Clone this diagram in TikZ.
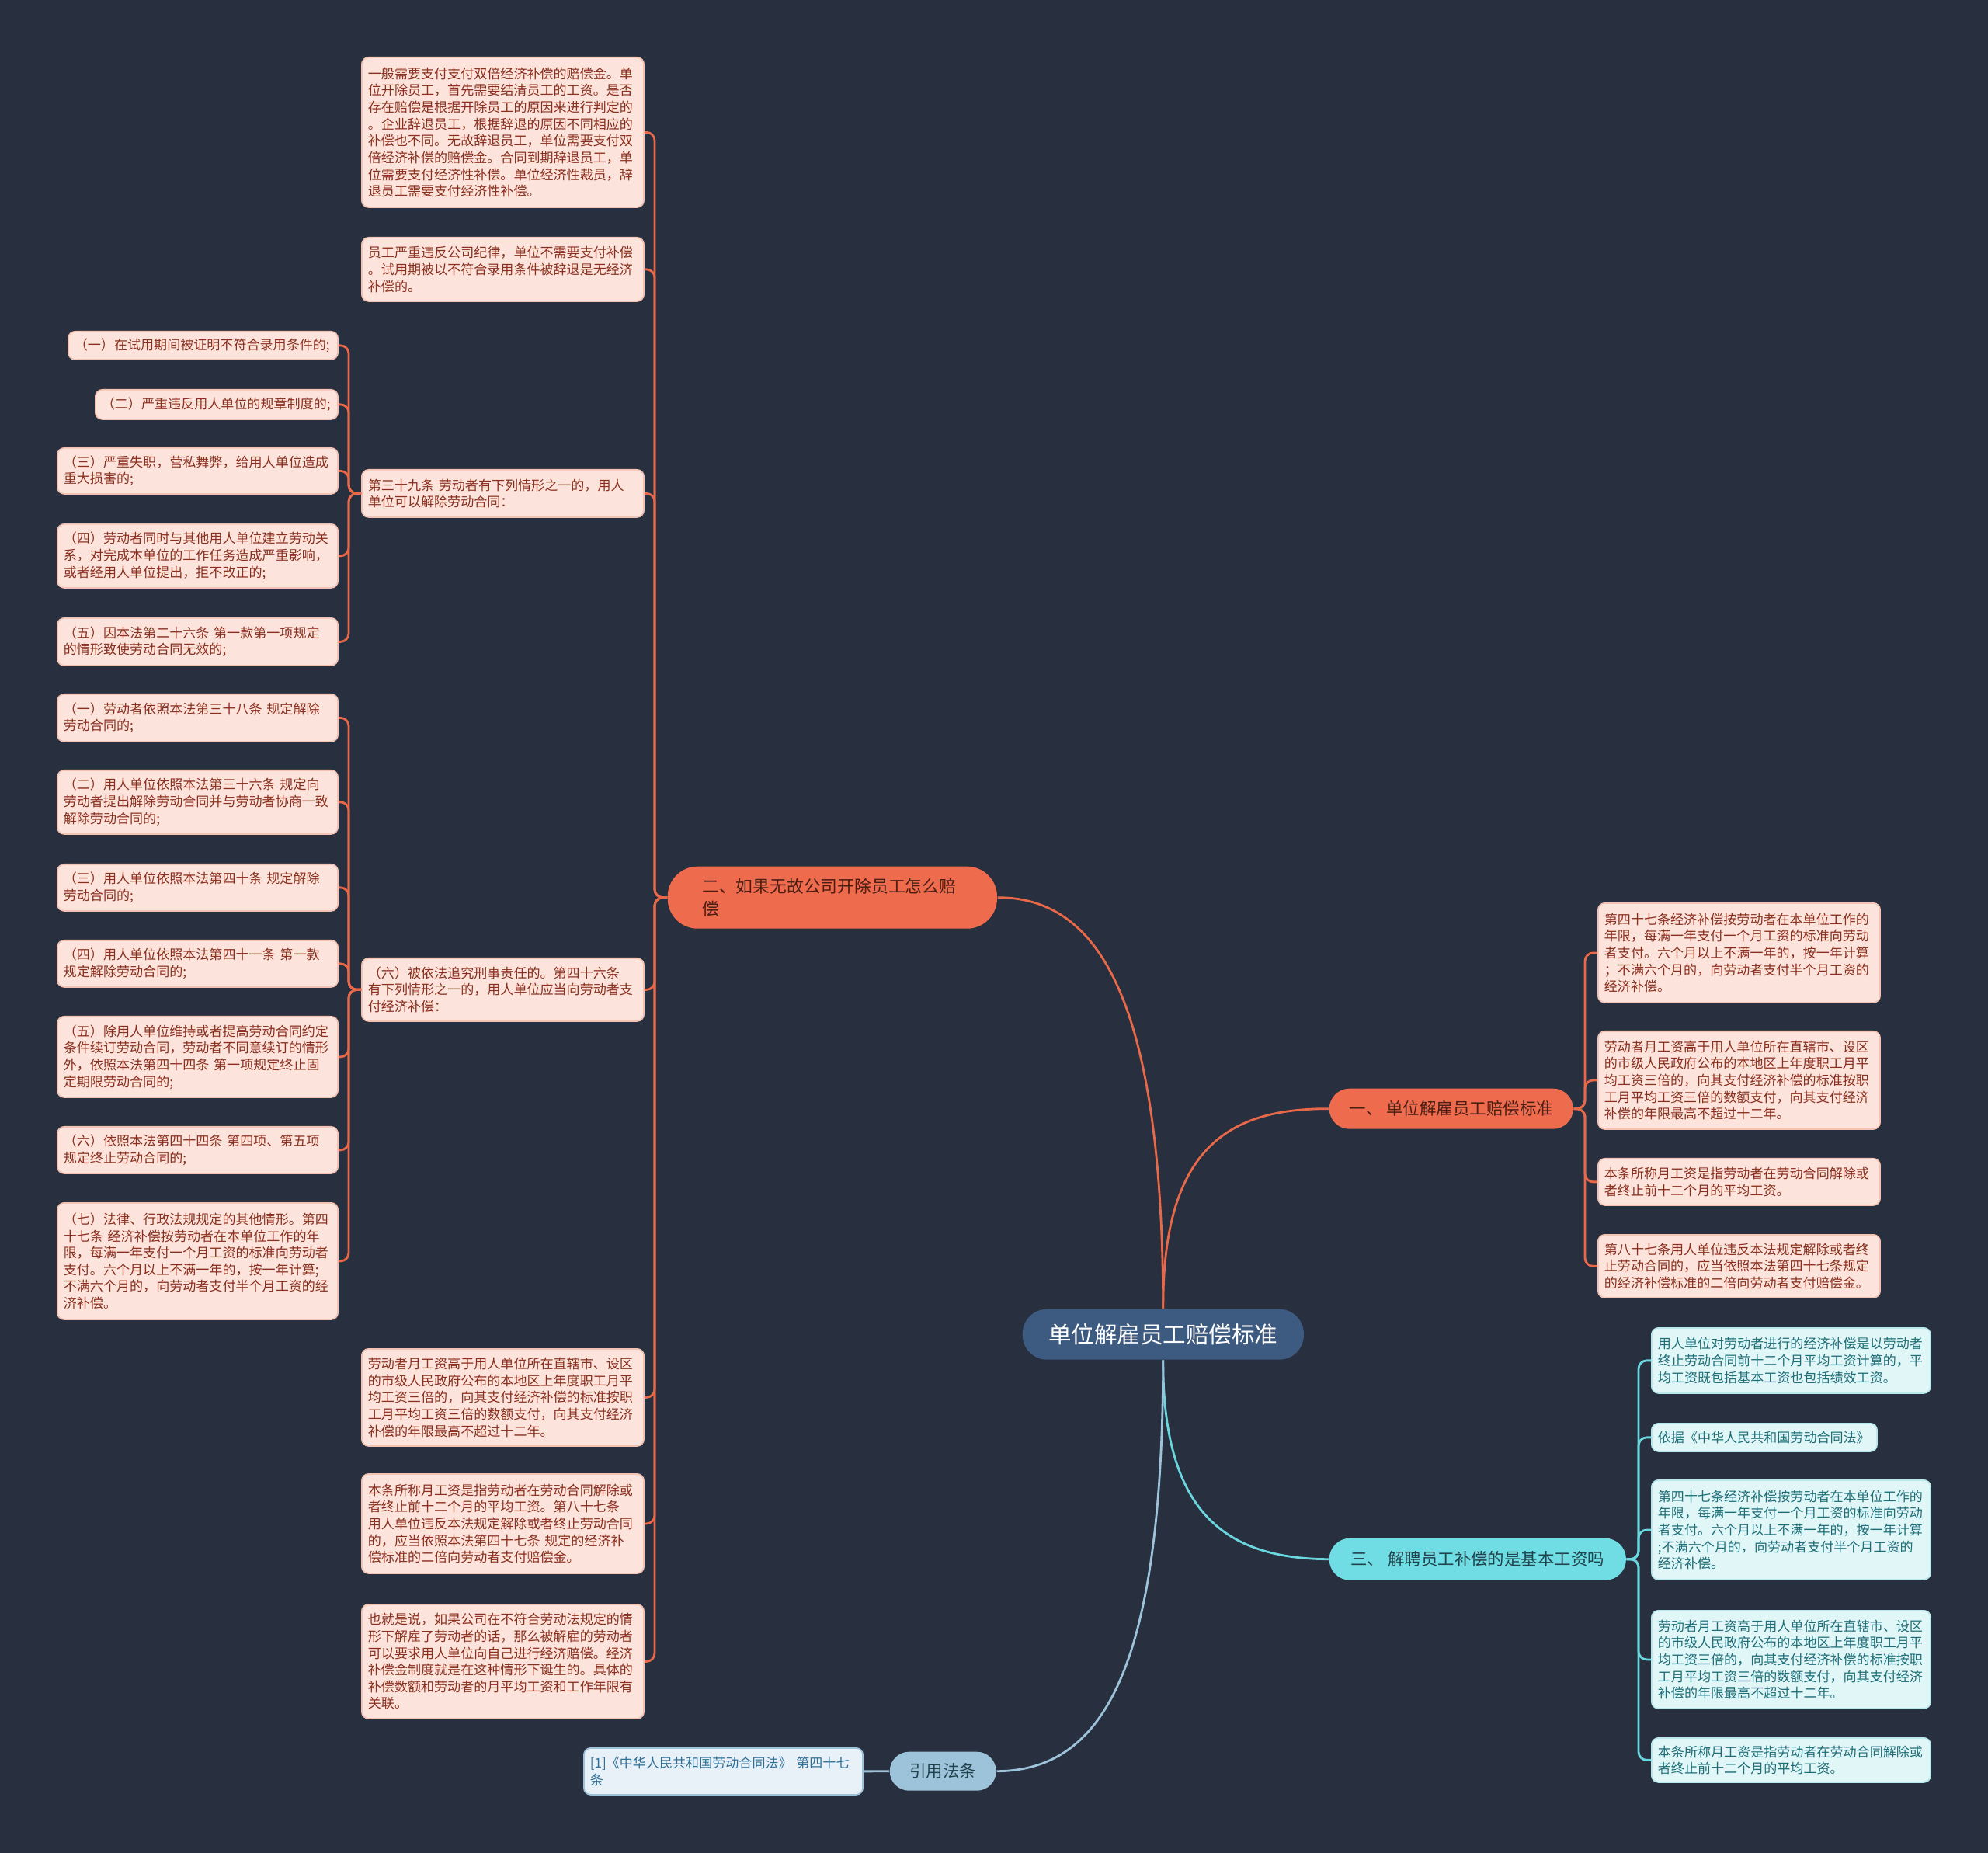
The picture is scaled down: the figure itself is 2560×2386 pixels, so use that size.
\documentclass[tikz,border=0pt]{standalone}
\usepackage{fontspec}
\newfontfamily\cjk{Noto Sans CJK SC}
\definecolor{bg}{HTML}{282F3E}
\definecolor{pfill}{HTML}{FCE4DC}
\definecolor{pedge}{HTML}{F2C3B4}
\definecolor{ptext}{HTML}{8A2F1E}
\definecolor{cfill}{HTML}{E0F6F7}
\definecolor{cedge}{HTML}{B8E8EC}
\definecolor{ctext}{HTML}{1E6E78}
\definecolor{colO}{HTML}{E8694A}
\definecolor{colC}{HTML}{6AD6DE}
\definecolor{colB}{HTML}{9DC3DB}
\definecolor{ofill}{HTML}{EE6B4D}
\definecolor{otext}{HTML}{4A1E14}
\definecolor{cbr}{HTML}{6FDDE3}
\definecolor{cbrtext}{HTML}{22434C}
\definecolor{centf}{HTML}{3D5A80}
\definecolor{reff}{HTML}{E8F1F8}
\definecolor{reftext}{HTML}{2F6F97}
\begin{document}
\begin{tikzpicture}[x=0.01cm,y=-0.01cm,
  box/.style={anchor=north west, rounded corners=2.5pt, align=left, inner xsep=0.08cm, inner ysep=0pt, font=\cjk\fontsize{4.85pt}{6.15pt}\selectfont},
  pbox/.style={box, fill=pfill, draw=pedge, line width=0.5pt, text=ptext},
  cbox/.style={box, fill=cfill, draw=cedge, line width=0.5pt, text=ctext},
  brn/.style={anchor=north west, inner sep=0pt, font=\cjk\fontsize{6.1pt}{8.3pt}\selectfont},
  olink/.style={draw=colO, line width=0.8pt, rounded corners=3pt},
  clink/.style={draw=colC, line width=0.8pt, rounded corners=3pt},
  blink/.style={draw=colB, line width=0.8pt, rounded corners=3pt}]
\path[use as bounding box, fill=bg] (0,0) rectangle (2560,2386);

% central and branches
\node[brn, fill=centf, text=white, rounded corners=9pt, minimum width=3.62cm, minimum height=0.65cm, font=\cjk\fontsize{8.4pt}{10pt}\selectfont] (C) at (1316,1685) {单位解雇员工赔偿标准};
\node[brn, fill=ofill, text=otext, rounded corners=11pt, minimum width=4.24cm, minimum height=0.8cm, text width=3.35cm, align=left, font=\cjk\fontsize{6.2pt}{8.3pt}\selectfont] (B2) at (859,1115) {二、如果无故公司开除员工怎么赔\\偿};
\node[brn, fill=ofill, text=otext, rounded corners=7.4pt, minimum width=3.14cm, minimum height=0.52cm] (B1) at (1711,1401) {一、 单位解雇员工赔偿标准};
\node[brn, fill=cbr, text=cbrtext, rounded corners=7.6pt, minimum width=3.82cm, minimum height=0.54cm] (B3) at (1711,1980) {三、 解聘员工补偿的是基本工资吗};
\node[brn, fill=colB, text=cbrtext, rounded corners=7.1pt, minimum width=1.37cm, minimum height=0.5cm] (B4) at (1145,2255) {引用法条};

% branch 二 children
\node[pbox, text width=3.47cm, minimum height=1.93cm] (L1) at (465,73) {一般需要支付支付双倍经济补偿的赔偿金。单\\位开除员工，首先需要结清员工的工资。是否\\存在赔偿是根据开除员工的原因来进行判定的\\。企业辞退员工，根据辞退的原因不同相应的\\补偿也不同。无故辞退员工，单位需要支付双\\倍经济补偿的赔偿金。合同到期辞退员工，单\\位需要支付经济性补偿。单位经济性裁员，辞\\退员工需要支付经济性补偿。};
\node[pbox, text width=3.47cm, minimum height=0.82cm] (L2) at (465,305) {员工严重违反公司纪律，单位不需要支付补偿\\。试用期被以不符合录用条件被辞退是无经济\\补偿的。};
\node[pbox, text width=3.47cm, minimum height=0.61cm] (L3) at (465,604) {第三十九条 劳动者有下列情形之一的，用人\\单位可以解除劳动合同：};
\node[pbox, text width=3.47cm, minimum height=0.81cm] (L4) at (465,1233) {（六）被依法追究刑事责任的。第四十六条\\有下列情形之一的，用人单位应当向劳动者支\\付经济补偿：};
\node[pbox, text width=3.47cm, minimum height=1.25cm] (L5) at (465,1736) {劳动者月工资高于用人单位所在直辖市、设区\\的市级人民政府公布的本地区上年度职工月平\\均工资三倍的，向其支付经济补偿的标准按职\\工月平均工资三倍的数额支付，向其支付经济\\补偿的年限最高不超过十二年。};
\node[pbox, text width=3.47cm, minimum height=1.28cm] (L6) at (465,1897) {本条所称月工资是指劳动者在劳动合同解除或\\者终止前十二个月的平均工资。第八十七条\\用人单位违反本法规定解除或者终止劳动合同\\的，应当依照本法第四十七条 规定的经济补\\偿标准的二倍向劳动者支付赔偿金。};
\node[pbox, text width=3.47cm, minimum height=1.47cm] (L7) at (465,2065) {也就是说，如果公司在不符合劳动法规定的情\\形下解雇了劳动者的话，那么被解雇的劳动者\\可以要求用人单位向自己进行经济赔偿。经济\\补偿金制度就是在这种情形下诞生的。具体的\\补偿数额和劳动者的月平均工资和工作年限有\\关联。};

% level 3 under 第三十九条
\node[pbox, text width=3.31cm, minimum height=0.36cm] (a1) at (87,426) {（一）在试用期间被证明不符合录用条件的;};
\node[pbox, text width=2.96cm, minimum height=0.38cm] (a2) at (122,501) {（二）严重违反用人单位的规章制度的;};
\node[pbox, text width=3.45cm, minimum height=0.59cm] (a3) at (73,576) {（三）严重失职，营私舞弊，给用人单位造成\\重大损害的;};
\node[pbox, text width=3.45cm, minimum height=0.82cm] (a4) at (73,674) {（四）劳动者同时与其他用人单位建立劳动关\\系，对完成本单位的工作任务造成严重影响，\\或者经用人单位提出，拒不改正的;};
\node[pbox, text width=3.45cm, minimum height=0.61cm] (a5) at (73,795) {（五）因本法第二十六条 第一款第一项规定\\的情形致使劳动合同无效的;};

% level 3 under 第四十六条
\node[pbox, text width=3.45cm, minimum height=0.61cm] (b1) at (73,893) {（一）劳动者依照本法第三十八条 规定解除\\劳动合同的;};
\node[pbox, text width=3.45cm, minimum height=0.82cm] (b2) at (73,991) {（二）用人单位依照本法第三十六条 规定向\\劳动者提出解除劳动合同并与劳动者协商一致\\解除劳动合同的;};
\node[pbox, text width=3.45cm, minimum height=0.60cm] (b3) at (73,1112) {（三）用人单位依照本法第四十条 规定解除\\劳动合同的;};
\node[pbox, text width=3.45cm, minimum height=0.60cm] (b4) at (73,1210) {（四）用人单位依照本法第四十一条 第一款\\规定解除劳动合同的;};
\node[pbox, text width=3.45cm, minimum height=1.04cm] (b5) at (73,1308) {（五）除用人单位维持或者提高劳动合同约定\\条件续订劳动合同，劳动者不同意续订的情形\\外，依照本法第四十四条 第一项规定终止固\\定期限劳动合同的;};
\node[pbox, text width=3.45cm, minimum height=0.60cm] (b6) at (73,1450) {（六）依照本法第四十四条 第四项、第五项\\规定终止劳动合同的;};
\node[pbox, text width=3.45cm, minimum height=1.50cm] (b7) at (73,1548) {（七）法律、行政法规规定的其他情形。第四\\十七条 经济补偿按劳动者在本单位工作的年\\限，每满一年支付一个月工资的标准向劳动者\\支付。六个月以上不满一年的，按一年计算;\\不满六个月的，向劳动者支付半个月工资的经\\济补偿。};

% branch 一 children
\node[pbox, text width=3.47cm, minimum height=1.28cm] (R1) at (2057,1162) {第四十七条经济补偿按劳动者在本单位工作的\\年限，每满一年支付一个月工资的标准向劳动\\者支付。六个月以上不满一年的，按一年计算\\；不满六个月的，向劳动者支付半个月工资的\\经济补偿。};
\node[pbox, text width=3.47cm, minimum height=1.26cm] (R2) at (2057,1327) {劳动者月工资高于用人单位所在直辖市、设区\\的市级人民政府公布的本地区上年度职工月平\\均工资三倍的，向其支付经济补偿的标准按职\\工月平均工资三倍的数额支付，向其支付经济\\补偿的年限最高不超过十二年。};
\node[pbox, text width=3.47cm, minimum height=0.60cm] (R3) at (2057,1491) {本条所称月工资是指劳动者在劳动合同解除或\\者终止前十二个月的平均工资。};
\node[pbox, text width=3.47cm, minimum height=0.81cm] (R4) at (2057,1589) {第八十七条用人单位违反本法规定解除或者终\\止劳动合同的，应当依照本法第四十七条规定\\的经济补偿标准的二倍向劳动者支付赔偿金。};

% branch 三 children
\node[cbox, text width=3.43cm, minimum height=0.84cm] (K1) at (2126,1709) {用人单位对劳动者进行的经济补偿是以劳动者\\终止劳动合同前十二个月平均工资计算的，平\\均工资既包括基本工资也包括绩效工资。};
\node[cbox, text width=2.74cm, minimum height=0.36cm] (K2) at (2126,1832) {依据《中华人民共和国劳动合同法》};
\node[cbox, text width=3.43cm, minimum height=1.28cm] (K3) at (2126,1905) {第四十七条经济补偿按劳动者在本单位工作的\\年限，每满一年支付一个月工资的标准向劳动\\者支付。六个月以上不满一年的，按一年计算\\;不满六个月的，向劳动者支付半个月工资的\\经济补偿。};
\node[cbox, text width=3.43cm, minimum height=1.26cm] (K4) at (2126,2073) {劳动者月工资高于用人单位所在直辖市、设区\\的市级人民政府公布的本地区上年度职工月平\\均工资三倍的，向其支付经济补偿的标准按职\\工月平均工资三倍的数额支付，向其支付经济\\补偿的年限最高不超过十二年。};
\node[cbox, text width=3.43cm, minimum height=0.57cm] (K5) at (2126,2237) {本条所称月工资是指劳动者在劳动合同解除或\\者终止前十二个月的平均工资。};

% reference box
\node[box, fill=reff, draw=colB, line width=0.5pt, text=reftext, text width=3.43cm, minimum height=0.60cm] (REF) at (751,2250) {[1]《中华人民共和国劳动合同法》 第四十七\\条};

% trunk coordinates
\coordinate (t2) at (843,0);
\coordinate (t3) at (449,0);
\coordinate (t1) at (2041,0);
\coordinate (t4) at (2110,0);

% main connectors
\draw[olink] (C.north) .. controls (1497,1300) and (1420,1155) .. (B2.east);
\draw[olink] (C.north) .. controls (1497,1480) and (1580,1427) .. (B1.west);
\draw[clink] (C.south) .. controls (1497,1950) and (1580,2007) .. (B3.west);
\draw[blink] (C.south) .. controls (1497,2150) and (1420,2280) .. (B4.east);
\draw[blink] (B4.west) -- (REF.east);

\foreach \n in {L1,L2,L3,L4,L5,L6,L7}
  \draw[olink] (B2.west) -- (B2.west -| t2) |- (\n.east);
\foreach \n in {a1,a2,a3,a4,a5}
  \draw[olink] (L3.west) -- (L3.west -| t3) |- (\n.east);
\foreach \n in {b1,b2,b3,b4,b5,b6,b7}
  \draw[olink] (L4.west) -- (L4.west -| t3) |- (\n.east);
\foreach \n in {R1,R2,R3,R4}
  \draw[olink] (B1.east) -- (B1.east -| t1) |- (\n.west);
\foreach \n in {K1,K2,K3,K4,K5}
  \draw[clink] (B3.east) -- (B3.east -| t4) |- (\n.west);
\end{tikzpicture}
\end{document}
